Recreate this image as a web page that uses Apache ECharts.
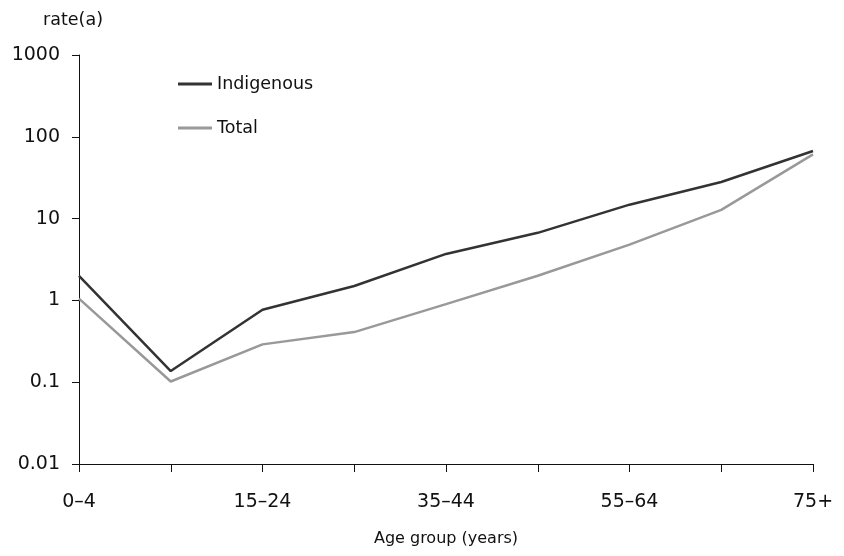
<!DOCTYPE html>
<html>
<head>
<meta charset="utf-8">
<script src="https://cdn.jsdelivr.net/npm/echarts@6/dist/echarts.min.js"></script>
<style>html,body{margin:0;padding:0;background:#fff}#c{width:844px;height:556px}</style>
</head>
<body>
<div id="c"></div>
<script>
const categories = ['0–4', '5–14', '15–24', '25–34', '35–44', '45–54', '55–64', '65–74', '75+'];
const indigenous = [2.0, 0.137, 0.77, 1.5, 3.7, 6.7, 14.8, 28, 67];
const total = [1.05, 0.102, 0.29, 0.41, 0.9, 2.0, 4.8, 12.8, 61];
const seriesNames = ['Indigenous', 'Total'];

const FONT = 'DejaVu Sans';
const chart = echarts.init(document.getElementById('c'));
chart.setOption({
  animation: false,
  backgroundColor: '#fff',
  textStyle: { fontFamily: FONT },
  grid: { left: 79, right: 31, top: 55, bottom: 92, containLabel: false },
  legend: {
    orient: 'vertical', left: 173, top: 70,
    icon: 'rect',
    itemWidth: 34, itemHeight: 3, itemGap: 26,
    textStyle: { fontFamily: FONT, fontSize: 17.5, color: '#111', padding: [0, 0, 0, 0] },
    data: seriesNames
  },
  xAxis: {
    type: 'category', data: categories, boundaryGap: false,
    name: 'Age group (years)', nameLocation: 'middle', nameGap: 75,
    nameTextStyle: { fontFamily: FONT, fontSize: 16, color: '#111', verticalAlign: 'middle' },
    axisLine: { lineStyle: { color: '#111', width: 1 } },
    axisTick: { show: true, length: 8, interval: 0, lineStyle: { color: '#111' } },
    axisLabel: { interval: 1, margin: 29, fontFamily: FONT, fontSize: 19, color: '#111' },
    splitLine: { show: false }
  },
  yAxis: {
    type: 'log', logBase: 10, min: 0.01, max: 1000,
    name: 'rate(a)', nameLocation: 'end', nameGap: 35,
    nameTextStyle: { fontFamily: FONT, fontSize: 17.5, color: '#111', align: 'center', verticalAlign: 'middle', padding: [0, 12, 0, 0] },
    axisLine: { show: true, lineStyle: { color: '#111', width: 1 } },
    axisTick: { show: true, length: 7, lineStyle: { color: '#111' } },
    axisLabel: { margin: 19, fontFamily: FONT, fontSize: 19, color: '#111',
      formatter: v => String(+v.toPrecision(6)) },
    splitLine: { show: false }
  },
  series: [
    { name: seriesNames[0], type: 'line', data: indigenous, symbol: 'none',
      lineStyle: { color: '#333333', width: 2.5 }, itemStyle: { color: '#333333' } },
    { name: seriesNames[1], type: 'line', data: total, symbol: 'none',
      lineStyle: { color: '#999999', width: 2.5 }, itemStyle: { color: '#999999' } }
  ]
});
</script>
</body>
</html>
